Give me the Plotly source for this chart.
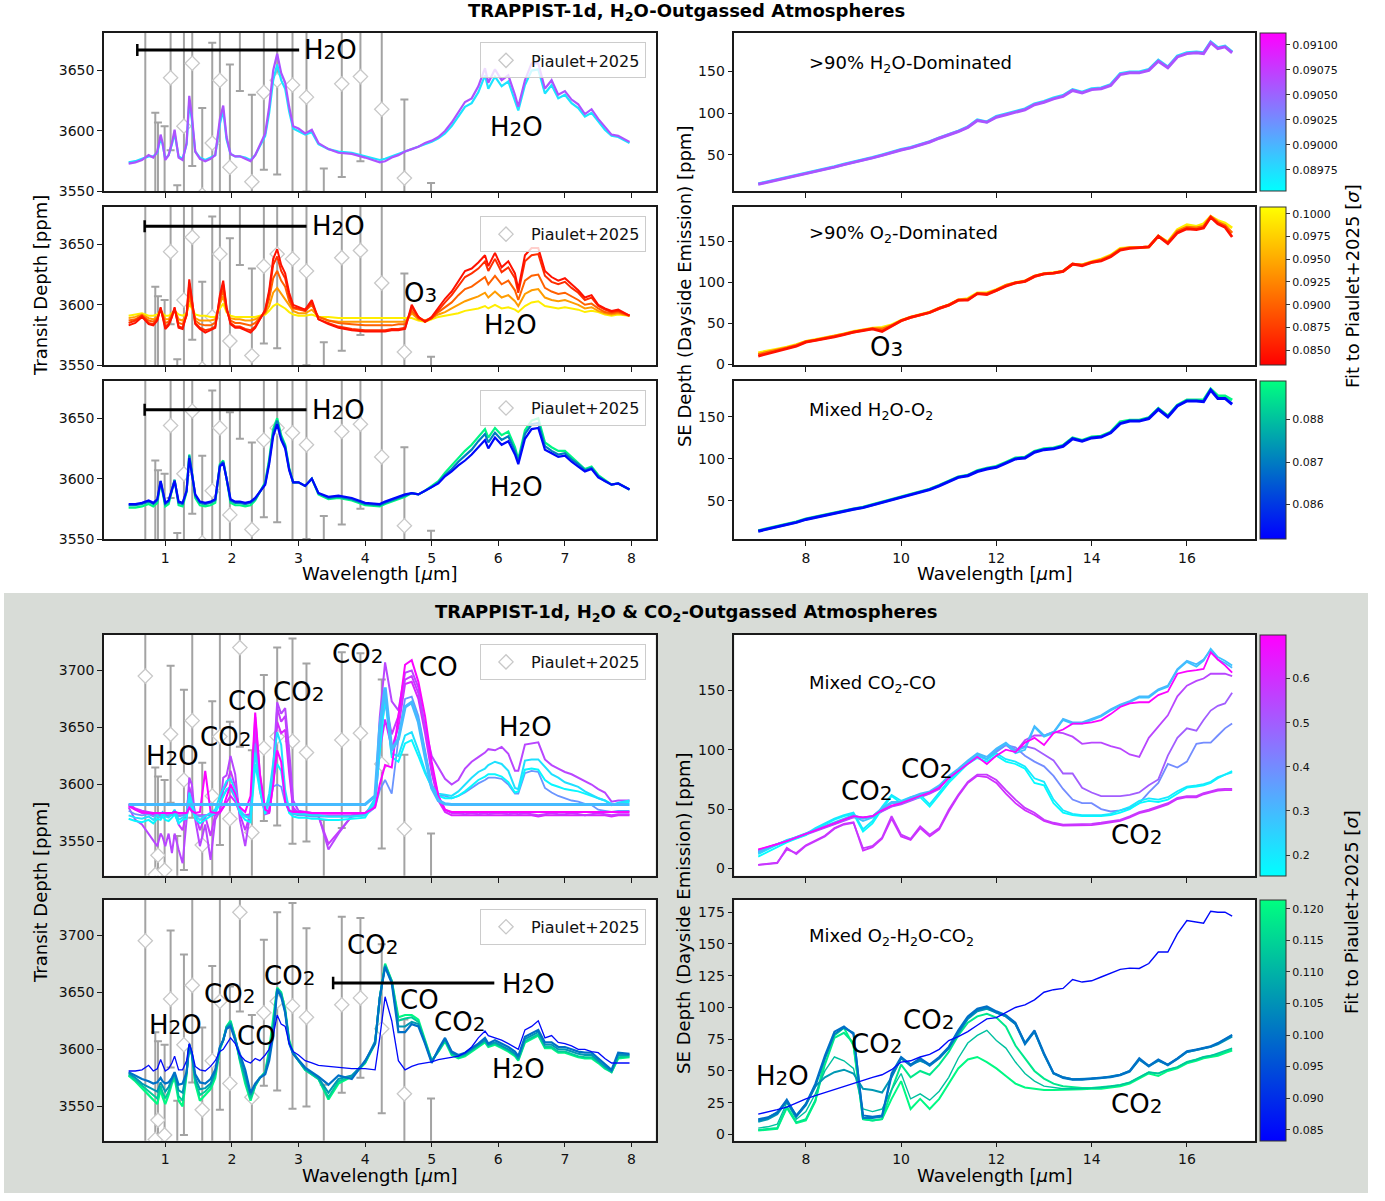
import plotly.graph_objects as go
from plotly.colors import sample_colorscale

W, H = 1385, 1201
FONT = "DejaVu Sans"

# ---------------------------------------------------------------- observations
OBS_WL = [0.70, 0.85, 0.89, 0.99, 1.08, 1.18, 1.28, 1.405, 1.555, 1.705,
          1.82, 1.97, 2.12, 2.30, 2.48, 2.68, 2.91, 3.12, 3.38, 3.65,
          3.93, 4.25, 4.59, 4.99]
OBS_DEPTH = [3695, 3521, 3538, 3525, 3644, 3480, 3604, 3656, 3547, 3590,
             3642, 3570, 3720, 3558, 3632, 3642, 3638, 3628, 3490, 3639,
             3645, 3618, 3561, 3490]
OBS_ERR = [185, 94, 69, 79, 60, 75, 79, 85, 72, 83,
           95, 85, 87, 72, 64, 78, 90, 78, 79, 77,
           70, 74, 65, 67]

# ---------------------------------------------------------------- transit grid
TRANSIT_WL = [0.45, 0.55, 0.65, 0.75, 0.82, 0.88, 0.93, 0.96, 1.00, 1.05,
              1.10, 1.14, 1.20, 1.26, 1.32, 1.36, 1.40, 1.45, 1.52, 1.60,
              1.68, 1.75, 1.82, 1.87, 1.92, 1.98, 2.05, 2.12, 2.20, 2.28,
              2.35, 2.42, 2.50, 2.56, 2.62, 2.68, 2.74, 2.80, 2.86, 2.92,
              3.00, 3.10, 3.20, 3.30, 3.45, 3.60, 3.80, 4.00, 4.15, 4.22,
              4.30, 4.40, 4.50, 4.60, 4.70, 4.80, 4.90, 5.00, 5.10, 5.20,
              5.30, 5.40, 5.50, 5.60, 5.70, 5.80, 5.85, 5.95, 6.05, 6.15,
              6.25, 6.30, 6.40, 6.50, 6.60, 6.70, 6.80, 6.90, 7.00, 7.10,
              7.20, 7.30, 7.40, 7.50, 7.60, 7.70, 7.80, 7.97]

# >90% H2O-dominated, transit
H2O_FITS = [0.0897, 0.0906]
H2O_TR_CYAN = [3574, 3575, 3577, 3579, 3579, 3582, 3594, 3589, 3577, 3580,
               3589, 3598, 3579, 3577, 3589, 3624, 3609, 3583, 3578, 3576,
               3578, 3580, 3606, 3617, 3593, 3581, 3579, 3579, 3578, 3576,
               3580, 3587, 3596, 3615, 3642, 3655, 3642, 3635, 3616, 3602,
               3600, 3597, 3599, 3589, 3585, 3583, 3582, 3579, 3577, 3576,
               3577, 3579, 3581, 3583, 3585, 3587, 3589, 3591, 3594, 3598,
               3604, 3612, 3620, 3623, 3632, 3646, 3635, 3645, 3637, 3641,
               3626, 3617, 3638, 3650, 3651, 3631, 3638, 3627, 3630, 3623,
               3619, 3612, 3615, 3608, 3601, 3596, 3595, 3590]
H2O_TR_PURPLE = [3573, 3574, 3576, 3580, 3578, 3583, 3597, 3590, 3576, 3580,
                 3590, 3601, 3578, 3576, 3590, 3629, 3612, 3583, 3577, 3575,
                 3577, 3580, 3610, 3621, 3595, 3581, 3579, 3579, 3577, 3575,
                 3580, 3588, 3598, 3620, 3650, 3664, 3648, 3640, 3620, 3604,
                 3602, 3598, 3601, 3590, 3585, 3582, 3581, 3578, 3575, 3574,
                 3575, 3578, 3580, 3583, 3585, 3587, 3590, 3592, 3595, 3600,
                 3607, 3615, 3624, 3627, 3637, 3652, 3640, 3651, 3642, 3646,
                 3630, 3620, 3642, 3656, 3656, 3635, 3642, 3630, 3633, 3626,
                 3622, 3614, 3618, 3610, 3603, 3597, 3596, 3591]

# >90% O2-dominated, transit
O2_FITS = [0.0995, 0.094, 0.090, 0.0865, 0.0845]
O2_TR_YELLOW = [3591, 3592, 3593, 3591, 3591, 3592, 3595, 3593, 3591, 3591,
                3593, 3595, 3592, 3591, 3593, 3601, 3597, 3592, 3591, 3591,
                3590, 3590, 3597, 3601, 3594, 3591, 3590, 3590, 3590, 3590,
                3590, 3591, 3592, 3595, 3599, 3601, 3599, 3597, 3594, 3592,
                3591, 3591, 3592, 3590, 3590, 3589, 3589, 3589, 3589, 3589,
                3589, 3589, 3589, 3589, 3589, 3587, 3586, 3588, 3590, 3591,
                3592, 3593, 3595, 3596, 3597, 3599, 3597, 3600, 3597, 3598,
                3596, 3594, 3599, 3602, 3603, 3599, 3598, 3597, 3598, 3597,
                3596, 3594, 3595, 3594, 3592, 3591, 3592, 3591]
O2_TR_LIGHTORANGE = [3589, 3590, 3592, 3589, 3588, 3590, 3596, 3592, 3588, 3588,
                     3592, 3596, 3588, 3587, 3592, 3607, 3598, 3589, 3587, 3587,
                     3587, 3588, 3601, 3607, 3595, 3589, 3588, 3588, 3587, 3587,
                     3588, 3590, 3593, 3599, 3610, 3614, 3609, 3605, 3599, 3595,
                     3593, 3593, 3596, 3590, 3587, 3586, 3586, 3586, 3586, 3586,
                     3586, 3586, 3586, 3586, 3593, 3588, 3587, 3589, 3592, 3594,
                     3597, 3600, 3603, 3605, 3607, 3610, 3606, 3611, 3606, 3608,
                     3603, 3599, 3609, 3612, 3613, 3606, 3604, 3603, 3604, 3602,
                     3600, 3597, 3598, 3595, 3593, 3592, 3593, 3591]
O2_TR_ORANGE = [3587, 3588, 3591, 3587, 3586, 3589, 3596, 3591, 3585, 3586,
                3591, 3596, 3585, 3584, 3591, 3612, 3600, 3587, 3584, 3583,
                3583, 3585, 3603, 3612, 3596, 3587, 3585, 3585, 3584, 3583,
                3585, 3589, 3594, 3605, 3622, 3628, 3620, 3615, 3603, 3597,
                3596, 3595, 3600, 3590, 3587, 3585, 3584, 3583, 3583, 3583,
                3583, 3583, 3584, 3584, 3595, 3589, 3587, 3589, 3594, 3598,
                3602, 3608, 3613, 3615, 3619, 3623, 3617, 3624, 3617, 3620,
                3612, 3604, 3620, 3624, 3625, 3614, 3611, 3609, 3610, 3607,
                3604, 3600, 3601, 3597, 3594, 3593, 3594, 3591]
O2_TR_RED2 = [3585, 3587, 3591, 3585, 3584, 3588, 3597, 3590, 3582, 3584,
              3590, 3597, 3582, 3581, 3592, 3618, 3603, 3585, 3581, 3579,
              3580, 3582, 3606, 3617, 3597, 3585, 3582, 3582, 3580, 3579,
              3582, 3588, 3595, 3610, 3633, 3640, 3628, 3622, 3607, 3598,
              3597, 3595, 3602, 3588, 3585, 3582, 3580, 3579, 3579, 3579,
              3579, 3580, 3580, 3581, 3598, 3590, 3586, 3589, 3596, 3602,
              3608, 3616, 3623, 3626, 3630, 3636, 3628, 3638, 3627, 3631,
              3622, 3610, 3636, 3641, 3642, 3624, 3619, 3617, 3619, 3614,
              3610, 3604, 3606, 3599, 3596, 3594, 3595, 3591]
O2_TR_RED = [3583, 3585, 3590, 3584, 3583, 3587, 3598, 3590, 3580, 3583,
             3590, 3598, 3581, 3580, 3592, 3621, 3604, 3584, 3580, 3577,
             3579, 3581, 3608, 3620, 3598, 3584, 3581, 3581, 3579, 3577,
             3581, 3588, 3596, 3612, 3638, 3646, 3633, 3626, 3610, 3600,
             3598, 3596, 3604, 3588, 3584, 3581, 3579, 3578, 3578, 3578,
             3578, 3579, 3579, 3580, 3600, 3590, 3586, 3590, 3598, 3605,
             3611, 3620, 3628, 3630, 3635, 3641, 3632, 3643, 3631, 3636,
             3626, 3613, 3641, 3647, 3647, 3628, 3623, 3620, 3622, 3617,
             3612, 3606, 3608, 3600, 3597, 3595, 3596, 3591]

# Mixed H2O-O2, transit
MIX_FITS = [0.0888, 0.0870, 0.0853]
MIX_TR_GREEN = [3576, 3576, 3577, 3579, 3577, 3580, 3597, 3587, 3577, 3579,
                3589, 3599, 3578, 3577, 3589, 3620, 3605, 3584, 3578, 3577,
                3578, 3580, 3612, 3615, 3600, 3580, 3578, 3578, 3577, 3578,
                3582, 3589, 3597, 3616, 3641, 3650, 3636, 3628, 3609, 3597,
                3597, 3594, 3600, 3587, 3583, 3584, 3582, 3578, 3577, 3577,
                3579, 3581, 3583, 3585, 3588, 3587, 3590, 3594, 3598, 3605,
                3611, 3617, 3623, 3628, 3635, 3641, 3634, 3642, 3636, 3639,
                3626, 3616, 3640, 3648, 3650, 3630, 3626, 3623, 3623, 3618,
                3613, 3608, 3610, 3603, 3599, 3595, 3596, 3591]
MIX_TR_TEAL = [3578, 3578, 3579, 3581, 3579, 3582, 3598, 3589, 3579, 3581,
               3590, 3599, 3580, 3579, 3590, 3619, 3605, 3586, 3580, 3579,
               3580, 3582, 3611, 3614, 3600, 3582, 3580, 3580, 3579, 3580,
               3583, 3589, 3596, 3614, 3638, 3648, 3634, 3627, 3608, 3597,
               3597, 3594, 3600, 3588, 3584, 3585, 3583, 3579, 3578, 3578,
               3580, 3582, 3584, 3586, 3588, 3587, 3590, 3593, 3597, 3603,
               3608, 3614, 3619, 3624, 3631, 3637, 3630, 3638, 3632, 3635,
               3623, 3614, 3637, 3645, 3646, 3627, 3623, 3620, 3621, 3616,
               3612, 3607, 3609, 3602, 3598, 3595, 3596, 3591]
MIX_TR_BLUE = [3579, 3579, 3580, 3582, 3580, 3583, 3598, 3590, 3580, 3582,
               3590, 3598, 3581, 3580, 3590, 3617, 3604, 3587, 3581, 3580,
               3581, 3583, 3610, 3613, 3600, 3583, 3581, 3581, 3580, 3581,
               3584, 3589, 3595, 3612, 3635, 3645, 3632, 3625, 3607, 3597,
               3597, 3594, 3600, 3588, 3585, 3586, 3584, 3580, 3579, 3579,
               3581, 3583, 3585, 3587, 3588, 3587, 3590, 3593, 3596, 3602,
               3606, 3611, 3615, 3620, 3626, 3632, 3625, 3634, 3628, 3631,
               3620, 3612, 3633, 3641, 3642, 3624, 3621, 3618, 3619, 3614,
               3610, 3606, 3608, 3601, 3598, 3595, 3596, 3591]

# Mixed CO2-CO, transit
COCO2_FITS = [0.62, 0.58, 0.55, 0.38, 0.17, 0.22, 0.69, 0.30]
COCO2_TR_P3 = [3582, 3578, 3575, 3574, 3573, 3573, 3573, 3573, 3573, 3573,
               3573, 3574, 3573, 3573, 3573, 3580, 3576, 3573, 3573, 3573,
               3573, 3573, 3575, 3580, 3585, 3590, 3585, 3575, 3573, 3574,
               3640, 3595, 3574, 3575, 3600, 3655, 3645, 3648, 3610, 3578,
               3574, 3573, 3573, 3573, 3573, 3573, 3573, 3573, 3583, 3630,
               3657, 3632, 3650, 3688, 3690, 3675, 3645, 3610, 3586, 3576,
               3573, 3573, 3573, 3573, 3573, 3573, 3573, 3573, 3573, 3573,
               3573, 3573, 3573, 3573, 3572, 3573, 3573, 3573, 3573, 3573,
               3573, 3573, 3573, 3573, 3573, 3572, 3573, 3573]
COCO2_TR_P2 = [3583, 3579, 3577, 3576, 3575, 3574, 3575, 3574, 3573, 3572,
               3574, 3576, 3565, 3560, 3575, 3598, 3590, 3574, 3560, 3572,
               3555, 3574, 3575, 3595, 3600, 3612, 3598, 3574, 3560, 3575,
               3650, 3600, 3575, 3576, 3605, 3667, 3655, 3660, 3620, 3580,
               3575, 3575, 3574, 3572, 3548, 3558, 3572, 3574, 3585, 3640,
               3672, 3644, 3660, 3692, 3695, 3680, 3650, 3615, 3590, 3578,
               3575, 3575, 3574, 3575, 3574, 3575, 3574, 3575, 3575, 3574,
               3575, 3574, 3575, 3574, 3573, 3574, 3575, 3574, 3574, 3575,
               3574, 3573, 3574, 3575, 3574, 3573, 3574, 3574]
COCO2_TR_P1 = [3580, 3569, 3565, 3557, 3551, 3546, 3557, 3554, 3546, 3557,
               3540, 3557, 3543, 3531, 3569, 3606, 3600, 3569, 3546, 3565,
               3534, 3569, 3577, 3606, 3608, 3625, 3609, 3569, 3546, 3577,
               3659, 3609, 3575, 3577, 3615, 3672, 3662, 3667, 3630, 3586,
               3577, 3576, 3575, 3573, 3543, 3557, 3573, 3575, 3583, 3659,
               3707, 3673, 3665, 3698, 3700, 3685, 3650, 3625, 3615, 3605,
               3600, 3604, 3614, 3620, 3624, 3628, 3631, 3630, 3633, 3627,
               3612, 3612, 3635, 3636, 3637, 3622, 3617, 3614, 3611, 3609,
               3606, 3603, 3600, 3596, 3593, 3585, 3586, 3586]
COCO2_TR_B = [3577, 3574, 3573, 3574, 3572, 3575, 3574, 3576, 3573, 3573,
              3575, 3577, 3572, 3573, 3574, 3585, 3578, 3573, 3572, 3573,
              3574, 3576, 3585, 3590, 3595, 3596, 3588, 3576, 3573, 3572,
              3636, 3600, 3576, 3588, 3598, 3600, 3598, 3584, 3576, 3574,
              3573, 3573, 3572, 3572, 3572, 3572, 3572, 3573, 3580, 3595,
              3604, 3592, 3640, 3675, 3677, 3660, 3630, 3600, 3590, 3590,
              3588, 3590, 3593, 3597, 3601, 3604, 3606, 3606, 3605, 3600,
              3592, 3592, 3610, 3612, 3611, 3597, 3593, 3590, 3588, 3586,
              3585, 3583, 3582, 3578, 3577, 3576, 3577, 3577]
COCO2_TR_C1 = [3570, 3568, 3567, 3569, 3566, 3570, 3569, 3572, 3569, 3568,
               3571, 3574, 3566, 3569, 3570, 3588, 3580, 3570, 3566, 3569,
               3572, 3575, 3583, 3590, 3596, 3598, 3590, 3575, 3569, 3567,
               3618, 3595, 3574, 3586, 3606, 3618, 3612, 3588, 3575, 3572,
               3571, 3571, 3570, 3570, 3569, 3569, 3570, 3571, 3585, 3630,
               3677, 3624, 3620, 3636, 3639, 3625, 3610, 3598, 3590, 3588,
               3588, 3590, 3594, 3599, 3604, 3607, 3609, 3609, 3607, 3602,
               3593, 3594, 3613, 3614, 3613, 3604, 3600, 3598, 3596, 3595,
               3594, 3592, 3590, 3588, 3586, 3583, 3583, 3585]
COCO2_TR_C2 = [3573, 3571, 3570, 3572, 3569, 3573, 3571, 3575, 3572, 3571,
               3574, 3578, 3569, 3571, 3573, 3593, 3584, 3573, 3569, 3572,
               3575, 3578, 3590, 3597, 3603, 3605, 3595, 3578, 3572, 3570,
               3628, 3600, 3577, 3592, 3620, 3646, 3635, 3595, 3578, 3575,
               3574, 3574, 3573, 3573, 3572, 3572, 3572, 3573, 3588, 3640,
               3683, 3627, 3625, 3643, 3646, 3630, 3612, 3597, 3592, 3591,
               3590, 3594, 3600, 3606, 3611, 3614, 3617, 3620, 3618, 3612,
               3597, 3596, 3621, 3622, 3622, 3615, 3609, 3606, 3602, 3600,
               3598, 3594, 3591, 3588, 3586, 3582, 3584, 3586]
COCO2_TR_M = [3581, 3578, 3576, 3575, 3575, 3575, 3575, 3575, 3575, 3575,
              3575, 3576, 3575, 3575, 3575, 3580, 3577, 3575, 3576, 3612,
              3576, 3575, 3576, 3580, 3590, 3600, 3592, 3580, 3576, 3590,
              3663, 3610, 3578, 3576, 3600, 3630, 3620, 3585, 3577, 3576,
              3576, 3576, 3575, 3575, 3575, 3575, 3575, 3575, 3580, 3600,
              3617, 3615, 3660, 3705, 3709, 3690, 3660, 3620, 3590, 3578,
              3576, 3576, 3576, 3576, 3576, 3576, 3576, 3576, 3576, 3576,
              3576, 3576, 3576, 3576, 3576, 3576, 3576, 3576, 3576, 3576,
              3576, 3576, 3576, 3576, 3576, 3576, 3576, 3576]
COCO2_TR_LB = [3582.5, 3582.5, 3582.5, 3582.5, 3582.5, 3582.5, 3582.5, 3582.5, 3582.5, 3582.5,
               3582.5, 3582.5, 3582.5, 3582.5, 3582.5, 3582.5, 3582.5, 3582.5, 3582.5, 3582.5,
               3582.5, 3582.5, 3582.5, 3582.5, 3582.5, 3582.5, 3582.5, 3582.5, 3582.5, 3582.5,
               3582.5, 3582.5, 3582.5, 3582.5, 3582.5, 3582.5, 3582.5, 3582.5, 3582.5, 3582.5,
               3582.5, 3582.5, 3582.5, 3582.5, 3582.5, 3582.5, 3582.5, 3582.5, 3590, 3650,
               3685, 3630, 3640, 3668, 3672, 3655, 3625, 3597, 3586, 3583,
               3582.5, 3582.5, 3582.5, 3582.5, 3582.5, 3582.5, 3582.5, 3582.5, 3582.5, 3582.5,
               3582.5, 3582.5, 3582.5, 3582.5, 3582.5, 3582.5, 3582.5, 3582.5, 3582.5, 3582.5,
               3582.5, 3582.5, 3582.5, 3582.5, 3582.5, 3582.5, 3582.5, 3582.5]

# Mixed O2-H2O-CO2, transit
OHC_FITS = [0.1205, 0.114, 0.106, 0.100, 0.0845]
OHC_TR_GREEN = [3577, 3572, 3566, 3560, 3556, 3552, 3565, 3558, 3552, 3560,
                3570, 3575, 3555, 3550, 3578, 3604, 3595, 3570, 3555, 3560,
                3565, 3575, 3600, 3608, 3620, 3625, 3610, 3590, 3570, 3555,
                3568, 3575, 3580, 3600, 3625, 3654, 3650, 3635, 3608, 3597,
                3590, 3582, 3578, 3574, 3556, 3570, 3576, 3588, 3605, 3645,
                3675, 3660, 3628, 3630, 3630, 3626, 3608, 3590, 3598, 3607,
                3595, 3592, 3594, 3598, 3602, 3606, 3602, 3604, 3601, 3598,
                3594, 3590, 3606, 3609, 3612, 3601, 3601, 3597, 3597, 3595,
                3593, 3592, 3592, 3588, 3583, 3580, 3592, 3593]
OHC_TR_GREENTEAL = [3578, 3573, 3568, 3563, 3560, 3557, 3568, 3562, 3557, 3563,
                    3572, 3577, 3559, 3555, 3579, 3604, 3595, 3572, 3560, 3563,
                    3568, 3578, 3601, 3608, 3620, 3624, 3610, 3591, 3573, 3557,
                    3568, 3575, 3580, 3597, 3621, 3653, 3649, 3634, 3607, 3597,
                    3590, 3582, 3578, 3574, 3558, 3572, 3576, 3588, 3606, 3645,
                    3674, 3660, 3625, 3627, 3628, 3624, 3607, 3590, 3598, 3608,
                    3596, 3593, 3595, 3599, 3603, 3607, 3603, 3605, 3602, 3599,
                    3595, 3591, 3607, 3610, 3613, 3602, 3602, 3598, 3598, 3596,
                    3594, 3593, 3593, 3589, 3584, 3580, 3593, 3594]
OHC_TR_TEAL = [3579, 3575, 3570, 3567, 3565, 3563, 3571, 3567, 3563, 3567,
               3574, 3579, 3564, 3562, 3580, 3604, 3596, 3575, 3565, 3566,
               3570, 3580, 3602, 3608, 3619, 3622, 3609, 3592, 3577, 3560,
               3569, 3575, 3579, 3594, 3617, 3653, 3648, 3633, 3606, 3596,
               3590, 3583, 3579, 3575, 3562, 3574, 3577, 3589, 3607, 3645,
               3673, 3659, 3620, 3620, 3624, 3622, 3606, 3589, 3599, 3609,
               3597, 3594, 3596, 3600, 3604, 3608, 3604, 3606, 3603, 3600,
               3596, 3592, 3609, 3612, 3615, 3604, 3604, 3600, 3600, 3598,
               3596, 3595, 3595, 3590, 3585, 3581, 3595, 3595]
OHC_TR_DARKTEAL = [3580, 3577, 3574, 3572, 3570, 3571, 3575, 3572, 3570, 3571,
                   3575, 3580, 3569, 3570, 3580, 3604, 3596, 3578, 3571, 3570,
                   3574, 3582, 3602, 3608, 3618, 3620, 3608, 3594, 3582, 3562,
                   3570, 3575, 3578, 3590, 3612, 3652, 3646, 3632, 3605, 3596,
                   3591, 3584, 3580, 3576, 3569, 3577, 3574, 3590, 3605, 3645,
                   3672, 3658, 3615, 3615, 3622, 3620, 3605, 3588, 3600, 3610,
                   3598, 3595, 3597, 3601, 3605, 3610, 3605, 3608, 3605, 3602,
                   3598, 3594, 3611, 3614, 3617, 3606, 3606, 3602, 3602, 3600,
                   3598, 3597, 3597, 3592, 3587, 3582, 3597, 3596]
OHC_TR_BLUE = [3581, 3581, 3582, 3586, 3581, 3583, 3591, 3586, 3581, 3583,
               3588, 3594, 3582, 3582, 3590, 3605, 3598, 3585, 3582, 3581,
               3585, 3590, 3598, 3600, 3605, 3610, 3605, 3595, 3590, 3588,
               3592, 3590, 3595, 3600, 3612, 3630, 3622, 3620, 3605, 3598,
               3595, 3590, 3588, 3586, 3585, 3584, 3583, 3583, 3582, 3610,
               3646, 3625, 3590, 3582, 3585, 3587, 3588, 3589, 3591, 3592,
               3593, 3594, 3597, 3602, 3610, 3616, 3612, 3610, 3608, 3605,
               3602, 3600, 3617, 3620, 3625, 3610, 3612, 3606, 3605, 3603,
               3600, 3600, 3598, 3597, 3592, 3588, 3588, 3588]

# ---------------------------------------------------------------- emission grid
EMIS_WL = [7.0, 7.2, 7.4, 7.6, 7.8, 8.0, 8.2, 8.4, 8.6, 8.8,
           9.0, 9.2, 9.4, 9.6, 9.8, 10.0, 10.2, 10.4, 10.6, 10.8,
           11.0, 11.2, 11.4, 11.6, 11.8, 12.0, 12.2, 12.4, 12.6, 12.8,
           13.0, 13.2, 13.4, 13.6, 13.8, 14.0, 14.2, 14.4, 14.6, 14.8,
           15.0, 15.2, 15.4, 15.6, 15.8, 16.0, 16.2, 16.35, 16.5, 16.65,
           16.8, 16.95]

H2O_SE_CYAN = [15.5, 18, 20.5, 23, 25.5, 28, 31, 33.5, 36, 39,
               41.5, 44, 47, 50, 53.5, 56.5, 59, 62.5, 66, 70.5,
               74.5, 78.5, 83.5, 92, 89.5, 96, 99, 102, 105, 111,
               114, 118, 121, 128, 125, 129, 130, 134, 147, 149,
               149, 152, 163, 155, 168, 172, 173, 172, 185, 178,
               180, 173]
H2O_SE_PURPLE = [15, 17.5, 20, 22.5, 25, 27.5, 30.5, 33, 35.5, 38.5,
                 41, 43.5, 46.5, 49.5, 53, 56, 58.5, 62, 65.5, 70,
                 74, 78, 83, 91, 89, 95, 98, 101, 104, 110,
                 113, 117, 120, 127, 124, 128, 129, 133, 146, 148,
                 148, 151, 162, 154, 167, 171, 172, 171, 184, 177,
                 179, 172]

O2_SE_FITS = [0.0995, 0.091, 0.0845]
O2_SE_YELLOW = [14, 16, 18.5, 21, 24, 28, 30, 32.5, 34.5, 37,
                40, 42, 44, 45, 48, 53.5, 57.5, 60.5, 63.5, 68.5,
                72.5, 78.5, 80, 87, 87, 91, 96, 99.5, 101.5, 107.5,
                110.5, 111.5, 113.5, 122, 121, 125, 128, 133, 141, 142,
                142, 143, 156, 149, 164, 170, 168, 171, 180, 175,
                172, 166]
O2_SE_ORANGE = [12, 14.5, 17, 20, 23, 27.5, 29.5, 32, 34, 36.5,
                39.5, 41.5, 43.5, 43, 47, 53, 57, 60, 63, 68,
                72, 78, 79, 86, 86, 90, 96, 99, 101, 107,
                110, 111, 113, 122, 121, 124, 127, 132, 140, 142,
                142, 143, 156, 148, 162, 167, 166, 168, 180, 173,
                169, 160]
O2_SE_RED = [10, 13, 16, 19, 22, 27, 29, 31.5, 33.5, 36,
             39, 41, 43, 40, 46, 53, 57, 60, 63, 68,
             72, 78, 78, 86, 85, 90, 95, 99, 101, 107,
             110, 111, 113, 122, 120, 124, 126, 131, 139, 141,
             142, 143, 156, 147, 160, 165, 164, 166, 179, 171,
             167, 155]

MIX_SE_FITS = [0.0888, 0.0853]
MIX_SE_GREEN = [14.5, 17, 19.5, 22, 25, 28.5, 31, 33.5, 35.5, 38,
                40.5, 42.5, 45.5, 48.5, 51.5, 54.5, 57.5, 60.5, 64, 68.5,
                73.5, 78.5, 80.5, 86, 89, 91, 96, 101, 102, 109,
                112, 113, 116, 125, 122, 126, 127, 132, 144, 146,
                146, 149, 160, 151, 164, 170, 170, 170, 183, 175,
                175, 170]
MIX_SE_BLUE = [14, 16.5, 19, 21.5, 24.5, 28, 30.5, 33, 35, 37.5,
               40, 42, 45, 48, 51, 54, 57, 60, 63.5, 68,
               73, 78, 80, 85, 88, 90, 95, 100, 101, 108,
               111, 112, 115, 124, 121, 125, 126, 131, 142, 145,
               145, 148, 159, 150, 163, 169, 169, 168, 182, 172,
               172, 165]

# Mixed CO2-CO, emission
COCO2_SE_FITS = [0.60, 0.58, 0.55, 0.50, 0.40, 0.16, 0.20, 0.28, 0.30, 0.69]
COCO2_SE_PLOW2 = [3, 4, 5, 16, 13, 19.5, 23.5, 27.5, 34, 37.5,
                  39, 15, 18, 25, 42, 27, 24, 34, 27, 33,
                  48, 61, 72, 78, 77, 72, 63, 55, 49, 45,
                  40, 37.5, 36, 36, 36, 36.5, 37.5, 39, 40, 43,
                  46.5, 48.5, 51.5, 54, 58.5, 60, 60, 62.5, 64, 65.5,
                  66, 66]
COCO2_SE_PLOW = [3, 3.5, 4.5, 17.5, 12, 19, 23, 27, 33.5, 37,
                 38.5, 17, 19, 26, 44, 28.5, 25, 35.5, 28.5, 34,
                 49.5, 62, 73, 79, 79, 74.5, 66, 58, 51, 47,
                 41, 38.5, 37, 37, 37, 37.5, 38.5, 40, 41, 44,
                 47.5, 49.5, 52.5, 55, 59.5, 61, 61, 63.5, 65, 66.5,
                 67, 67]
COCO2_SE_PHI = [15, 17.5, 20, 22.5, 25.5, 28.5, 31.5, 34.5, 37.5, 40.5,
                43, 42, 43.5, 48, 52, 54, 57, 60, 63, 67,
                77, 83, 90, 96, 92, 99, 104, 98, 108, 112,
                112, 115, 114, 111, 105, 106, 106, 103, 101, 96,
                94, 110, 120, 129, 145, 154, 158, 160, 164, 164,
                164, 162]
COCO2_SE_PMID = [15.5, 18, 20.5, 23, 26, 29, 32, 35, 38, 41,
                 43.5, 42.5, 44, 48.5, 52.5, 54.5, 57.5, 60.5, 63.5, 67.5,
                 77, 83, 90, 95, 92, 100, 105, 100, 103, 101,
                 96, 91, 80, 80, 68, 64, 61, 61, 61, 62,
                 64, 70, 75, 95, 110, 118, 116, 125, 133, 137,
                 139, 148]
COCO2_SE_BMID = [14, 17.5, 20.5, 23.5, 26.5, 29.5, 32.5, 35.5, 38.5, 41.5,
                 44, 43, 44, 50, 55, 55, 59, 62, 64, 69,
                 77, 83, 90, 96, 92, 98, 104, 102, 95, 90,
                 86, 78, 67, 58, 55, 55, 50, 48, 49, 51,
                 55, 64, 72, 88, 85, 90, 105, 106, 106, 112,
                 118, 122]
COCO2_SE_C1 = [10, 14, 18, 22, 25, 28, 33, 37, 41, 44,
               46, 31, 38, 50, 61, 55, 58, 60, 52, 62,
               72, 80, 88, 93, 90, 95, 90, 88, 84, 72,
               70, 55, 47, 45, 44, 44, 44, 45, 47, 50,
               55, 57, 56, 58, 63, 68, 69, 70, 72, 76,
               79, 82]
COCO2_SE_C2 = [12, 16, 20, 24, 26, 29, 34, 38, 42, 45,
               47, 33, 40, 52, 62, 57, 60, 62, 54, 64,
               74, 82, 90, 95, 92, 97, 92, 90, 86, 76,
               73, 58, 49, 46, 45, 45, 45, 46, 49, 52,
               57, 59, 58, 60, 65, 69, 70, 71, 73, 77,
               79, 81]
COCO2_SE_LB1 = [13, 17, 20, 23, 26, 29, 32, 35, 38.5, 41,
                44, 40, 43, 50, 55, 55, 59, 62, 64, 69,
                77, 83, 90, 96, 92, 100, 105, 97, 100, 119,
                111, 114, 125, 122, 122, 125, 128, 133, 137, 140,
                144, 144, 150, 153, 167, 174, 170, 175, 185, 178,
                175, 171]
COCO2_SE_LB2 = [14, 17.5, 20.5, 23.5, 26.5, 29.5, 32.5, 35.5, 39, 42,
                45, 42, 44, 51, 56, 56, 60, 63, 65, 70,
                78, 84, 91, 97, 94, 101, 106, 99, 102, 120,
                112, 115, 126, 123, 123, 126, 129, 134, 138, 141,
                145, 145, 151, 154, 168, 175, 172, 176, 184, 176,
                173, 169]
COCO2_SE_M = [16, 18, 20.5, 23, 26, 29, 32, 35, 38, 41,
              44, 43, 44, 49, 53, 55, 58, 61, 64, 68,
              76, 82, 88, 94, 88, 95, 100, 98, 106, 110,
              104, 114, 117, 122, 122, 123, 125, 130, 136, 139,
              140, 140, 146, 149, 164, 166, 167, 168, 182, 176,
              171, 165]

# Mixed O2-H2O-CO2, emission
OHC_SE_FITS = [0.1205, 0.118, 0.112, 0.106, 0.102, 0.100, 0.0845]
OHC_SE_G5 = [3, 3.5, 4.5, 21, 9, 11, 26, 60, 78, 84,
             70, 12, 11, 12, 28, 42, 20, 28, 20, 28,
             40, 52, 59, 61, 57, 52, 46, 40, 37, 36,
             35, 35, 35, 35.5, 35.5, 36, 36, 37, 38, 40,
             44, 48, 46, 50, 52, 56, 58, 60, 61, 62,
             64, 66]
OHC_SE_G2 = [3.5, 4, 5, 22, 9.5, 12, 27, 55, 76, 80,
             72, 12, 11, 12, 35, 55, 45, 50, 47, 55,
             65, 78, 88, 93, 95, 92, 85, 70, 60, 50,
             44, 40, 38, 37, 36.5, 36.5, 37, 38, 39, 41,
             45, 49, 48, 51, 53, 57, 59, 61, 62, 63,
             65, 67]
OHC_SE_G3 = [5, 6, 8, 25, 12, 18, 32, 50, 61, 58,
             52, 20, 18, 20, 35, 48, 28, 32, 27, 34,
             45, 60, 72, 78, 82, 74, 68, 57, 48, 42,
             38, 37, 36, 36, 36, 36.5, 37, 38, 39, 41,
             45, 49, 48, 51, 53, 57, 59, 61, 62, 64,
             66, 68]
OHC_SE_G4 = [10, 12, 16, 26, 15, 24, 38, 45, 49, 51,
             48, 36, 35, 33, 45, 60, 55, 58, 55, 60,
             68, 80, 91, 97, 99, 96, 93, 87, 72, 81,
             63, 48, 45, 43.5, 43.5, 44, 44.5, 45.5, 47, 50,
             59, 54, 58, 55, 59.5, 65, 66.5, 67.5, 69, 71,
             74, 77]
OHC_SE_G1B = [11, 13, 17.5, 26, 14, 23, 38, 60, 79, 84,
              80, 13, 13, 14, 46, 60, 54, 59, 54, 60,
              68, 81, 92, 98, 100, 96, 93, 87, 71, 81,
              63, 48, 44.5, 43, 43, 43.5, 44, 45, 46.5, 49.5,
              59, 53.5, 58.5, 54.5, 59.5, 65, 66.5, 67.5, 69, 71.5,
              74.5, 78]
OHC_SE_G1 = [12, 13.5, 17, 27.5, 14.5, 24, 40, 62, 81, 85,
             79, 15, 14, 15, 48, 61, 55, 60, 55, 61,
             69, 82, 93, 99, 101, 97, 94, 88, 72, 82,
             64, 48.5, 45, 43.5, 43.5, 44, 44.5, 45.5, 47, 50,
             60, 54, 59, 55, 60, 65.5, 67, 68, 69.5, 72,
             75, 78.5]
OHC_SE_BLUE = [16, 17.5, 19.5, 21.5, 25, 28, 30.5, 33, 35, 37.5,
               40.5, 42.5, 45, 47, 51, 57, 58, 61, 63, 67,
               74, 77, 81, 86, 91, 92, 96, 100, 102, 106,
               112, 114, 115, 122, 120, 121, 124, 127, 130, 131,
               130.7, 134.6, 143.7, 143.7, 158, 168.5, 167, 166.4, 175.8, 175,
               175, 172]

# ---------------------------------------------------------------- colour maps
COOL = [[0, "rgb(0,255,255)"], [1, "rgb(255,0,255)"]]
AUTUMN = [[0, "rgb(255,0,0)"], [1, "rgb(255,255,0)"]]
WINTER = [[0, "rgb(0,0,255)"], [1, "rgb(0,255,128)"]]

CB_H2O = (0.089535, 0.091116)
CB_O2 = (0.08337, 0.10073)
CB_MIX = (0.08519, 0.08891)
CB_COCO2 = (0.1526, 0.699)
CB_OHC = (0.08327, 0.12146)


def cmap(fit, scale, lims):
    t = (fit - lims[0]) / (lims[1] - lims[0])
    t = min(max(t, 0.0), 1.0)
    return sample_colorscale(scale, [t])[0]


# ---------------------------------------------------------------- layout geometry (px)
def px_x(p):
    return p / W


def px_y(p):
    return 1 - p / H


XL = [px_x(104), px_x(655.5)]
XR = [px_x(734.4), px_x(1255)]
ROWS = [(33.3, 192.7), (208.3, 367.7), (383.3, 542.7), (639.3, 881.7), (905.7, 1148.3)]
YD = [[px_y(b), px_y(t)] for t, b in ROWS]

fig = go.Figure()

AX = {}  # panel key -> (xaxis id, yaxis id)
panels = [
    ("A1", XL, 0), ("A2", XL, 1), ("A3", XL, 2),
    ("B1", XR, 0), ("B2", XR, 1), ("B3", XR, 2),
    ("C1", XL, 3), ("C2", XL, 4),
    ("D1", XR, 3), ("D2", XR, 4),
]
XRANGE_L = [0.08, 8.36]
XRANGE_R = [6.5, 17.43]
YRANGES = {
    "A1": [3550, 3681], "A2": [3550, 3681], "A3": [3550, 3681],
    "B1": [6.5, 195.5], "B2": [-1.2, 191.6], "B3": [4.6, 193],
    "C1": [3520, 3731], "C2": [3520, 3731],
    "D1": [-6.2, 196.6], "D2": [-4.9, 184.9],
}
YTICKS = {
    "A1": [3550, 3600, 3650], "A2": [3550, 3600, 3650], "A3": [3550, 3600, 3650],
    "B1": [50, 100, 150], "B2": [0, 50, 100, 150], "B3": [50, 100, 150],
    "C1": [3550, 3600, 3650, 3700], "C2": [3550, 3600, 3650, 3700],
    "D1": [0, 50, 100, 150], "D2": [0, 25, 50, 75, 100, 125, 150, 175],
}
SHOW_XLABELS = {"A3", "B3", "C2", "D2"}

axis_common = dict(showline=True, mirror=True, linecolor="#1a1a1a", linewidth=1.6,
                   ticks="outside", ticklen=5, tickwidth=1.2, tickcolor="#1a1a1a",
                   showgrid=False, zeroline=False,
                   tickfont=dict(family=FONT, size=14, color="#111"))

layout_axes = {}
for i, (key, xd, row) in enumerate(panels, start=1):
    xid = "x" if i == 1 else f"x{i}"
    yid = "y" if i == 1 else f"y{i}"
    AX[key] = (xid, yid)
    left = xd is XL
    layout_axes["xaxis" if i == 1 else f"xaxis{i}"] = dict(
        axis_common, domain=xd, anchor=yid,
        range=XRANGE_L if left else XRANGE_R,
        tickvals=[1, 2, 3, 4, 5, 6, 7, 8] if left else [8, 10, 12, 14, 16],
        showticklabels=key in SHOW_XLABELS)
    layout_axes["yaxis" if i == 1 else f"yaxis{i}"] = dict(
        axis_common, domain=YD[row], anchor=xid,
        range=YRANGES[key], tickvals=YTICKS[key])


def add_family(key, wl, series, fits, scale, lims, width=2.0, widths=None):
    xid, yid = AX[key]
    for j, (s, f) in enumerate(zip(series, fits)):
        assert len(s) == len(wl), (key, j, len(s))
        fig.add_trace(go.Scatter(
            x=wl, y=s, mode="lines", xaxis=xid, yaxis=yid,
            line=dict(color=cmap(f, scale, lims), width=widths[j] if widths else width),
            showlegend=False, hoverinfo="skip"))


def add_obs(key, legend_name):
    xid, yid = AX[key]
    fig.add_trace(go.Scatter(
        x=OBS_WL, y=OBS_DEPTH, mode="markers", xaxis=xid, yaxis=yid,
        name="Piaulet+2025", legend=legend_name, showlegend=True,
        marker=dict(symbol="diamond", size=11, color="white",
                    line=dict(color="#c8c8c8", width=1.3)),
        error_y=dict(type="data", array=OBS_ERR, symmetric=True,
                     color="#a3a3a3", thickness=2, width=4),
        hoverinfo="skip"))


def add_colorbar(key, scale, lims, rowspan, tickvals, ticktext):
    xid, yid = AX[key]
    top, bot = rowspan
    fig.add_trace(go.Scatter(
        x=[10], y=[100], mode="markers", xaxis=xid, yaxis=yid,
        showlegend=False, hoverinfo="skip",
        marker=dict(size=1, opacity=0, color=[lims[0]], colorscale=scale,
                    cmin=lims[0], cmax=lims[1], showscale=True,
                    colorbar=dict(x=px_x(1259.6), xanchor="left", xpad=0,
                                  y=px_y((top + bot) / 2), yanchor="middle", ypad=0,
                                  len=(bot - top) / H, lenmode="fraction",
                                  thickness=26, thicknessmode="pixels",
                                  outlinecolor="#333", outlinewidth=1,
                                  ticks="outside", ticklen=4, tickwidth=1, tickcolor="#333",
                                  tickvals=tickvals, ticktext=ticktext,
                                  tickfont=dict(family=FONT, size=11, color="#111")))))


# ---------------------------------------------------------------- observations behind the models
for k, lg in [("A1", "legend"), ("A2", "legend2"), ("A3", "legend3"),
              ("C1", "legend4"), ("C2", "legend5")]:
    add_obs(k, lg)

# ---------------------------------------------------------------- model spectra
add_family("A1", TRANSIT_WL, [H2O_TR_CYAN, H2O_TR_PURPLE], H2O_FITS, COOL, CB_H2O, 2.2)
add_family("A2", TRANSIT_WL, [O2_TR_YELLOW, O2_TR_LIGHTORANGE, O2_TR_ORANGE, O2_TR_RED2, O2_TR_RED],
           O2_FITS, AUTUMN, CB_O2, 2.0)
add_family("A3", TRANSIT_WL, [MIX_TR_GREEN, MIX_TR_TEAL, MIX_TR_BLUE], MIX_FITS, WINTER, CB_MIX, 2.2)

add_family("B1", EMIS_WL, [H2O_SE_CYAN, H2O_SE_PURPLE], H2O_FITS, COOL, CB_H2O, 3.0)
add_family("B2", EMIS_WL, [O2_SE_YELLOW, O2_SE_ORANGE, O2_SE_RED], O2_SE_FITS, AUTUMN, CB_O2, 2.8)
add_family("B3", EMIS_WL, [MIX_SE_GREEN, MIX_SE_BLUE], MIX_SE_FITS, WINTER, CB_MIX, 3.0)

add_family("C1", TRANSIT_WL,
           [COCO2_TR_P3, COCO2_TR_P2, COCO2_TR_P1, COCO2_TR_B, COCO2_TR_C1, COCO2_TR_C2,
            COCO2_TR_M, COCO2_TR_LB],
           COCO2_FITS, COOL, CB_COCO2,
           widths=[2.0, 2.0, 2.0, 1.8, 2.0, 2.0, 2.0, 3.2])
add_family("C2", TRANSIT_WL,
           [OHC_TR_GREEN, OHC_TR_GREENTEAL, OHC_TR_TEAL, OHC_TR_DARKTEAL, OHC_TR_BLUE],
           OHC_FITS, WINTER, CB_OHC, widths=[2.2, 2.0, 2.0, 2.2, 1.3])

add_family("D1", EMIS_WL,
           [COCO2_SE_PLOW2, COCO2_SE_PLOW, COCO2_SE_PHI, COCO2_SE_PMID, COCO2_SE_BMID,
            COCO2_SE_C1, COCO2_SE_C2, COCO2_SE_LB1, COCO2_SE_LB2, COCO2_SE_M],
           COCO2_SE_FITS, COOL, CB_COCO2, 1.8)
add_family("D2", EMIS_WL,
           [OHC_SE_G5, OHC_SE_G2, OHC_SE_G3, OHC_SE_G4, OHC_SE_G1B, OHC_SE_G1, OHC_SE_BLUE],
           OHC_SE_FITS, WINTER, CB_OHC, widths=[2.0, 2.0, 1.4, 2.0, 2.0, 2.0, 1.4])

# ---------------------------------------------------------------- colour bars
add_colorbar("B1", COOL, CB_H2O, ROWS[0],
             [0.08975, 0.09, 0.09025, 0.0905, 0.09075, 0.091],
             ["0.08975", "0.09000", "0.09025", "0.09050", "0.09075", "0.09100"])
add_colorbar("B2", AUTUMN, CB_O2, ROWS[1],
             [0.085, 0.0875, 0.09, 0.0925, 0.095, 0.0975, 0.1],
             ["0.0850", "0.0875", "0.0900", "0.0925", "0.0950", "0.0975", "0.1000"])
add_colorbar("B3", WINTER, CB_MIX, ROWS[2], [0.086, 0.087, 0.088], ["0.086", "0.087", "0.088"])
add_colorbar("D1", COOL, CB_COCO2, ROWS[3], [0.2, 0.3, 0.4, 0.5, 0.6], ["0.2", "0.3", "0.4", "0.5", "0.6"])
add_colorbar("D2", WINTER, CB_OHC, ROWS[4],
             [0.085, 0.09, 0.095, 0.1, 0.105, 0.11, 0.115, 0.12],
             ["0.085", "0.090", "0.095", "0.100", "0.105", "0.110", "0.115", "0.120"])


# ---------------------------------------------------------------- H2O band markers
def band_bar(key, x0, x1, y, cap):
    xid, yid = AX[key]
    fig.add_trace(go.Scatter(x=[x0, x1], y=[y, y], mode="lines", xaxis=xid, yaxis=yid,
                             line=dict(color="black", width=3), showlegend=False, hoverinfo="skip"))
    fig.add_trace(go.Scatter(x=[x0, x0], y=[y - cap, y + cap], mode="lines", xaxis=xid, yaxis=yid,
                             line=dict(color="black", width=2.5), showlegend=False, hoverinfo="skip"))


band_bar("A1", 0.58, 3.01, 3667, 5)
band_bar("A2", 0.69, 3.12, 3665, 5)
band_bar("A3", 0.69, 3.12, 3657, 5)
band_bar("C2", 3.52, 5.94, 3658, 5.5)


# ---------------------------------------------------------------- text
def mol(s):
    out = ""
    for ch in s:
        out += f"<span style='font-size:20px'>{ch}</span>" if ch.isdigit() else ch
    return out


annotations = []


def label(key, text, x, y, size=26, xanchor="center"):
    xid, yid = AX[key]
    annotations.append(dict(xref=xid, yref=yid, x=x, y=y, text=text, showarrow=False,
                            xanchor=xanchor, yanchor="middle",
                            font=dict(family=FONT, size=size, color="black")))


label("A1", mol("H2O"), 3.05, 3667, xanchor="left")
label("A1", mol("H2O"), 6.28, 3603)
label("A2", mol("H2O"), 3.17, 3665, xanchor="left")
label("A2", mol("O3"), 4.83, 3610)
label("A2", mol("H2O"), 6.18, 3583)
label("A3", mol("H2O"), 3.17, 3657, xanchor="left")
label("A3", mol("H2O"), 6.28, 3593)

label("B1", "&gt;90% H<sub>2</sub>O-Dominated", 8.02, 158, size=18, xanchor="left")
label("B2", "&gt;90% O<sub>2</sub>-Dominated", 8.02, 158.5, size=18, xanchor="left")
label("B2", mol("O3"), 9.69, 21)
label("B3", "Mixed H<sub>2</sub>O-O<sub>2</sub>", 8.02, 157.5, size=18, xanchor="left")

label("C1", mol("H2O"), 1.11, 3625)
label("C1", mol("CO2"), 1.90, 3642)
label("C1", "CO", 2.24, 3673)
label("C1", mol("CO2"), 3.00, 3681)
label("C1", mol("CO2"), 3.88, 3714)
label("C1", "CO", 5.10, 3703)
label("C1", mol("H2O"), 6.41, 3650)

label("C2", mol("H2O"), 1.16, 3621)
label("C2", mol("CO2"), 1.97, 3648)
label("C2", "CO", 2.37, 3612)
label("C2", mol("CO2"), 2.86, 3664)
label("C2", mol("CO2"), 4.11, 3691)
label("C2", mol("H2O"), 6.03, 3657, xanchor="left")
label("C2", "CO", 4.81, 3643)
label("C2", mol("CO2"), 5.41, 3624)
label("C2", mol("H2O"), 6.30, 3583)

label("D1", "Mixed CO<sub>2</sub>-CO", 8.02, 155.5, size=18, xanchor="left")
label("D1", mol("CO2"), 9.27, 65)
label("D1", mol("CO2"), 10.54, 83.5)
label("D1", mol("CO2"), 14.95, 28.5)

label("D2", "Mixed O<sub>2</sub>-H<sub>2</sub>O-CO<sub>2</sub>", 8.02, 155.5, size=18, xanchor="left")
label("D2", mol("H2O"), 7.51, 46)
label("D2", mol("CO2"), 9.49, 71)
label("D2", mol("CO2"), 10.58, 90)
label("D2", mol("CO2"), 14.95, 24)


def paper_text(text, x, y, size=18, angle=0, bold=False):
    annotations.append(dict(xref="paper", yref="paper", x=px_x(x), y=px_y(y),
                            text=f"<b>{text}</b>" if bold else text, showarrow=False,
                            xanchor="center", yanchor="middle", textangle=angle,
                            font=dict(family=FONT, size=size, color="black")))


paper_text("TRAPPIST-1d, H<sub>2</sub>O-Outgassed Atmospheres", 686, 12, size=18, bold=True)
paper_text("TRAPPIST-1d, H<sub>2</sub>O &amp; CO<sub>2</sub>-Outgassed Atmospheres", 686, 617, size=18, bold=True)
paper_text("Transit Depth [ppm]", 40, 288, angle=-90)
paper_text("Transit Depth [ppm]", 40, 899, angle=-90)
paper_text("SE Depth (Dayside Emission) [ppm]", 684, 288, angle=-90)
paper_text("SE Depth (Dayside Emission) [ppm]", 684, 919, angle=-90)
paper_text("Fit to Piaulet+2025 [<i>σ</i>]", 1352, 288, angle=-90)
paper_text("Fit to Piaulet+2025 [<i>σ</i>]", 1352, 918, angle=-90)
for yc in (577, 1183):
    paper_text("Wavelength [<i>μ</i>m]", 379.8, yc)
    paper_text("Wavelength [<i>μ</i>m]", 994.7, yc)

# ---------------------------------------------------------------- legends
legend_style = dict(xanchor="right", yanchor="top", bgcolor="rgba(255,255,255,0.8)",
                    bordercolor="#cccccc", borderwidth=1,
                    font=dict(family=FONT, size=16, color="#111"), itemwidth=40)
legends = {
    "legend": dict(legend_style, x=px_x(646), y=px_y(42.7)),
    "legend2": dict(legend_style, x=px_x(646), y=px_y(217.7)),
    "legend3": dict(legend_style, x=px_x(646), y=px_y(392.7)),
    "legend4": dict(legend_style, x=px_x(646), y=px_y(648.3)),
    "legend5": dict(legend_style, x=px_x(646), y=px_y(915)),
}

# ---------------------------------------------------------------- background of the lower block
shapes = [dict(type="rect", xref="paper", yref="paper", x0=px_x(4), x1=px_x(1368),
               y0=0, y1=px_y(597), fillcolor="#d8dcd7", line=dict(width=0), layer="below")]
for xd in (XL, XR):
    for row in (3, 4):
        shapes.append(dict(type="rect", xref="paper", yref="paper", x0=xd[0], x1=xd[1],
                           y0=YD[row][0], y1=YD[row][1], fillcolor="white",
                           line=dict(width=0), layer="below"))

fig.update_layout(
    width=W, height=H, autosize=False,
    margin=dict(l=0, r=0, t=0, b=0),
    paper_bgcolor="white", plot_bgcolor="white",
    font=dict(family=FONT, color="#111"),
    annotations=annotations, shapes=shapes,
    **layout_axes, **legends,
)

fig.write_html("out.html")
